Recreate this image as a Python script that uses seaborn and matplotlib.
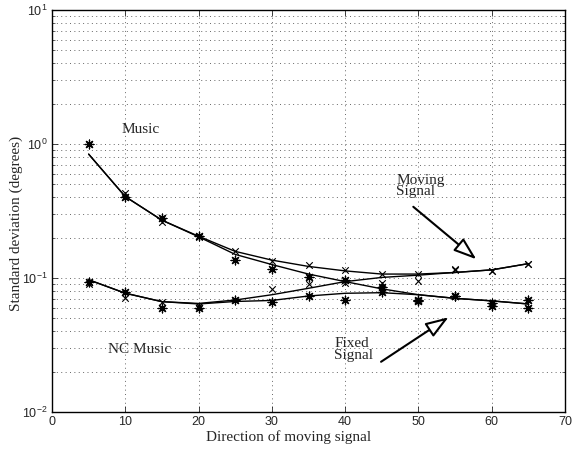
import numpy as np
import pandas as pd
import matplotlib
matplotlib.use("Agg")
import matplotlib.pyplot as plt
import seaborn as sns
from matplotlib.ticker import LogLocator, NullFormatter

# direction of moving signal (deg)
direction = [5, 10, 15, 20, 25, 30, 35, 40, 45, 50, 55, 60, 65]

# fitted curves
music_moving_fit = [0.84, 0.405, 0.27, 0.205, 0.158, 0.136, 0.122, 0.113, 0.107, 0.107, 0.110, 0.115, 0.128]
music_fixed_fit = [0.84, 0.405, 0.27, 0.203, 0.150, 0.126, 0.107, 0.094, 0.083, 0.075, 0.0705, 0.0675, 0.064]
nc_moving_fit = [0.097, 0.077, 0.0666, 0.0646, 0.0685, 0.075, 0.0838, 0.094, 0.101, 0.105, 0.110, 0.115, 0.128]
nc_fixed_fit = [0.097, 0.077, 0.0666, 0.064, 0.0668, 0.068, 0.0734, 0.0769, 0.0777, 0.075, 0.0705, 0.0675, 0.064]

# measured points: x = moving signal, * = fixed signal
music_moving_pts = [1.0, 0.43, 0.26, 0.204, 0.158, 0.134, 0.126, 0.115, 0.107, 0.1065, 0.117, 0.113, 0.128]
music_fixed_pts = [1.0, 0.40, 0.28, 0.206, 0.136, 0.117, 0.102, 0.096, 0.086, 0.068, 0.074, 0.0655, 0.0685]
nc_moving_pts = [0.09, 0.071, 0.066, 0.062, 0.069, 0.083, 0.0897, 0.092, 0.092, 0.095, 0.114, 0.112, 0.127]
nc_fixed_pts = [0.093, 0.078, 0.060, 0.060, 0.068, 0.0666, 0.0738, 0.0685, 0.078, 0.0677, 0.073, 0.0614, 0.0597]

sns.set_style("ticks")
plt.rcParams["font.family"] = ["Liberation Serif", "DejaVu Serif"]
plt.rcParams["mathtext.fontset"] = "custom"
plt.rcParams["mathtext.rm"] = "Liberation Sans"
plt.rcParams["mathtext.it"] = "Liberation Sans:italic"

fits = pd.DataFrame({
    "direction": direction * 4,
    "std": music_moving_fit + music_fixed_fit + nc_moving_fit + nc_fixed_fit,
    "curve": ["mm"] * 13 + ["mf"] * 13 + ["nm"] * 13 + ["nf"] * 13,
})
pts = pd.DataFrame({
    "direction": direction * 4,
    "std": music_moving_pts + nc_moving_pts + music_fixed_pts + nc_fixed_pts,
    "signal": ["moving"] * 26 + ["fixed"] * 26,
})

fig = plt.figure(figsize=(5.74, 4.5), dpi=100)
ax = fig.add_axes([52 / 574, 1 - 412 / 450, 513 / 574, 402 / 450])

sns.lineplot(data=fits, x="direction", y="std", units="curve", estimator=None,
             color="black", linewidth=1.0, ax=ax, legend=False)
sns.scatterplot(data=pts[pts.signal == "moving"], x="direction", y="std",
                marker="x", color="black", s=22, linewidth=0.8, ax=ax, legend=False)
sns.scatterplot(data=pts[pts.signal == "fixed"], x="direction", y="std",
                marker=(8, 2, 0), color="black", edgecolor="black", s=40, linewidth=0.9,
                ax=ax, legend=False)

ax.set_yscale("log")
ax.set_xlim(0, 70)
ax.set_ylim(1e-2, 1e1)
ax.set_xticks(range(0, 71, 10))
ax.yaxis.set_major_locator(LogLocator(base=10, numticks=10))
ax.yaxis.set_minor_locator(LogLocator(base=10, subs=np.arange(2, 10), numticks=20))
ax.yaxis.set_minor_formatter(NullFormatter())

ax.grid(True, which="major", axis="both", color="0.4", linestyle=(0, (1, 3.5)), linewidth=0.7)
ax.grid(True, which="minor", axis="y", color="0.4", linestyle=(0, (1, 3.5)), linewidth=0.7)

ax.tick_params(which="both", direction="in", top=True, right=True, labelsize=9, pad=3,
               labelfontfamily="Liberation Sans")
ax.tick_params(which="major", length=4, width=0.6)
ax.tick_params(which="minor", length=2, width=0.5)
for sp in ax.spines.values():
    sp.set_linewidth(1.0)
    sp.set_color("black")

ax.set_xlabel("Direction of moving signal", fontsize=11, labelpad=0)
ax.set_ylabel("Standard deviation (degrees)", fontsize=11)
ax.xaxis.set_label_coords(0.462, -0.046)
ax.yaxis.set_label_coords(-0.057, 0.47)

ax.text(12.1, 1.29, "Music", fontsize=11, ha="center", va="center")
ax.text(11.9, 0.0295, "NC Music", fontsize=11, ha="center", va="center")
ax.text(47.0, 0.486, "Moving\nSignal", fontsize=11, ha="left", va="center", linespacing=0.85)
ax.text(38.5, 0.0292, "Fixed\nSignal", fontsize=11, ha="left", va="center", linespacing=0.85)

arrow = dict(arrowstyle="-|>,head_length=1.0,head_width=0.35", facecolor="white",
             edgecolor="black", linewidth=1.5, mutation_scale=14, shrinkA=0, shrinkB=0)
ax.annotate("", xy=(57.9, 0.138), xytext=(49.3, 0.34), arrowprops=arrow)
ax.annotate("", xy=(54.1, 0.0509), xytext=(44.9, 0.0237), arrowprops=arrow)

fig.savefig("out.png", dpi=100)
